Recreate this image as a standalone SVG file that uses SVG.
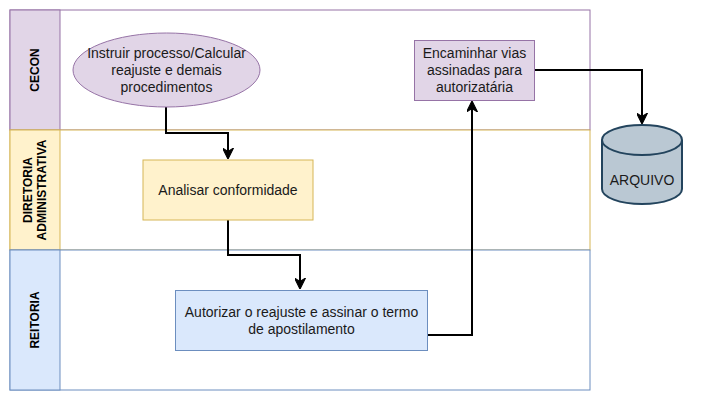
<svg xmlns="http://www.w3.org/2000/svg" width="715" height="400" viewBox="0 0 715 400">
<defs>
<style>
.t{font-family:"Liberation Sans",Arial,sans-serif;font-size:14px;fill:#1a1a1a;text-anchor:middle}
.h{font-family:"Liberation Sans",Arial,sans-serif;font-size:12px;font-weight:bold;fill:#000;text-anchor:middle}
.e{fill:none;stroke:#000;stroke-width:2}
</style>
<marker id="ar" viewBox="0 0 10 10" refX="9" refY="5" markerWidth="11" markerHeight="11" orient="auto" markerUnits="userSpaceOnUse">
<path d="M0,0 L10,5 L0,10 L3,5 Z" fill="#000" stroke="#000" stroke-width="1"/>
</marker>
</defs>
<rect width="715" height="400" fill="#fff"/>
<g id="lane-cecon">
<rect x="10" y="10" width="580" height="120" fill="#fff" stroke="#9673a6"/>
<rect x="10" y="10" width="50" height="120" fill="#e1d5e7" stroke="#9673a6"/>
<text class="h" transform="translate(39,70) rotate(-90)">CECON</text>
</g>
<g id="lane-diretoria">
<rect x="10" y="130" width="580" height="120" fill="#fff" stroke="#d6b656"/>
<rect x="10" y="130" width="50" height="120" fill="#fff2cc" stroke="#d6b656"/>
<text class="h" transform="translate(32,190) rotate(-90)">DIRETORIA</text>
<text class="h" transform="translate(46,190) rotate(-90)">ADMINISTRATIVA</text>
</g>
<g id="lane-reitoria">
<rect x="10" y="250" width="580" height="140" fill="#fff" stroke="#6c8ebf"/>
<rect x="10" y="250" width="50" height="140" fill="#dae8fc" stroke="#6c8ebf"/>
<text class="h" transform="translate(39,320) rotate(-90)">REITORIA</text>
</g>
<g id="connectors">
<path class="e" d="M166,107 V133 H228 V158" marker-end="url(#ar)"/>
<path class="e" d="M228,220 V255 H300 V288" marker-end="url(#ar)"/>
<path class="e" d="M428,335 H472 V102" marker-end="url(#ar)"/>
<path class="e" d="M535,70 H642 V123" marker-end="url(#ar)"/>
</g>
<g id="n-instruir">
<ellipse cx="166.5" cy="70" rx="93.5" ry="37" fill="#e1d5e7" stroke="#9673a6"/>
<text class="t" x="166.5" y="58">Instruir processo/Calcular</text>
<text class="t" x="166.5" y="75">reajuste e demais</text>
<text class="t" x="166.5" y="92">procedimentos</text>
</g>
<g id="n-analisar">
<rect x="143" y="160" width="170" height="60" fill="#fff2cc" stroke="#d6b656"/>
<text class="t" x="228" y="195">Analisar conformidade</text>
</g>
<g id="n-autorizar">
<rect x="175.5" y="290.5" width="252" height="60" fill="#dae8fc" stroke="#6c8ebf"/>
<text class="t" x="301.5" y="317">Autorizar o reajuste e assinar o termo</text>
<text class="t" x="301.5" y="334">de apostilamento</text>
</g>
<g id="n-encaminhar">
<rect x="414.5" y="40.5" width="120" height="60" fill="#e1d5e7" stroke="#9673a6"/>
<text class="t" x="474.5" y="58">Encaminhar vias</text>
<text class="t" x="474.5" y="75">assinadas para</text>
<text class="t" x="474.5" y="92">autorizatária</text>
</g>
<g id="n-arquivo">
<path d="M602,140 A40,15 0 0 1 682,140 V189 A40,15 0 0 1 602,189 Z" fill="#bac8d3" stroke="#23445d" stroke-width="2"/>
<path d="M602,140 A40,15 0 0 0 682,140" fill="none" stroke="#23445d" stroke-width="2"/>
<text class="t" x="642" y="185">ARQUIVO</text>
</g>
</svg>
